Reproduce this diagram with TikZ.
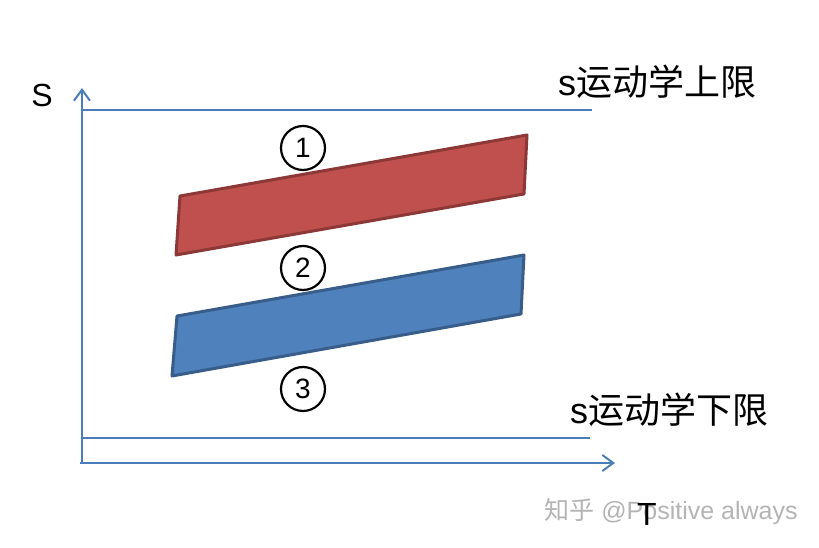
\documentclass[tikz,border=0pt]{standalone}
\usepackage{fontspec}
\setmainfont{Liberation Sans}
\newfontfamily\cjk{Noto Sans CJK SC}
\usepackage{tikz}
\usetikzlibrary{arrows.meta}
\definecolor{axisblue}{HTML}{4A7EBB}
\definecolor{redfill}{HTML}{C0504D}
\definecolor{redline}{HTML}{8C3836}
\definecolor{bluefill}{HTML}{4F81BD}
\definecolor{blueline}{HTML}{385D8A}
\definecolor{markgray}{HTML}{B4B4B4}

\begin{document}
\begin{tikzpicture}[x=1pt,y=1pt,
  axis/.style={draw=axisblue, line width=2pt, -{Straight Barb[length=11pt,width=16pt]}},
  limit/.style={draw=axisblue, line width=2pt},
  band/.style={line width=3pt, line join=round},
  num/.style={circle, draw, line width=2.2pt, minimum size=44pt, inner sep=0pt, font=\fontsize{28}{28}\selectfont},
  lbl/.style={font=\fontsize{32}{32}\selectfont},
  limlbl/.style={font=\fontsize{36}{36}\selectfont\cjk}]
  \useasboundingbox (0,0) rectangle (819,548);
  % axes
  \coordinate (o) at (82,85);
  \coordinate (ytip) at (82,460);
  \coordinate (xtip) at (615,85);
  \draw[axis] (o) -- (ytip);
  \draw[axis] (80,85) -- (xtip);
  % limits
  \coordinate (up-a) at (82,438);
  \coordinate (up-b) at (592,438);
  \coordinate (lo-a) at (82,110);
  \coordinate (lo-b) at (590,110);
  \draw[limit] (up-a) -- (up-b);
  \draw[limit] (lo-a) -- (lo-b);
  % bands
  \filldraw[band, fill=redfill, draw=redline]
    (180,352) -- (527,413) -- (524,354) -- (176,293) -- cycle;
  \filldraw[band, fill=bluefill, draw=blueline]
    (177,232) -- (524,293) -- (521,234) -- (172,172) -- cycle;
  % regions
  \node[num] (n1) at (303,400) {1};
  \node[num] (n2) at (303,280) {2};
  \node[num] (n3) at (303,159) {3};
  % labels
  \node[lbl] (s) at (42,453) {S};
  \node[limlbl] (smax) at (657,466) {\fontspec{Liberation Sans}s\cjk 运动学上限};
  \node[limlbl] (smin) at (669,138) {\fontspec{Liberation Sans}s\cjk 运动学下限};
  \node[text=markgray, font=\fontsize{25}{25}\selectfont] (mark) at (671,36) {{\cjk 知乎} @Positive always};
  \node[lbl] (t) at (647,34) {T};
\end{tikzpicture}
\end{document}
